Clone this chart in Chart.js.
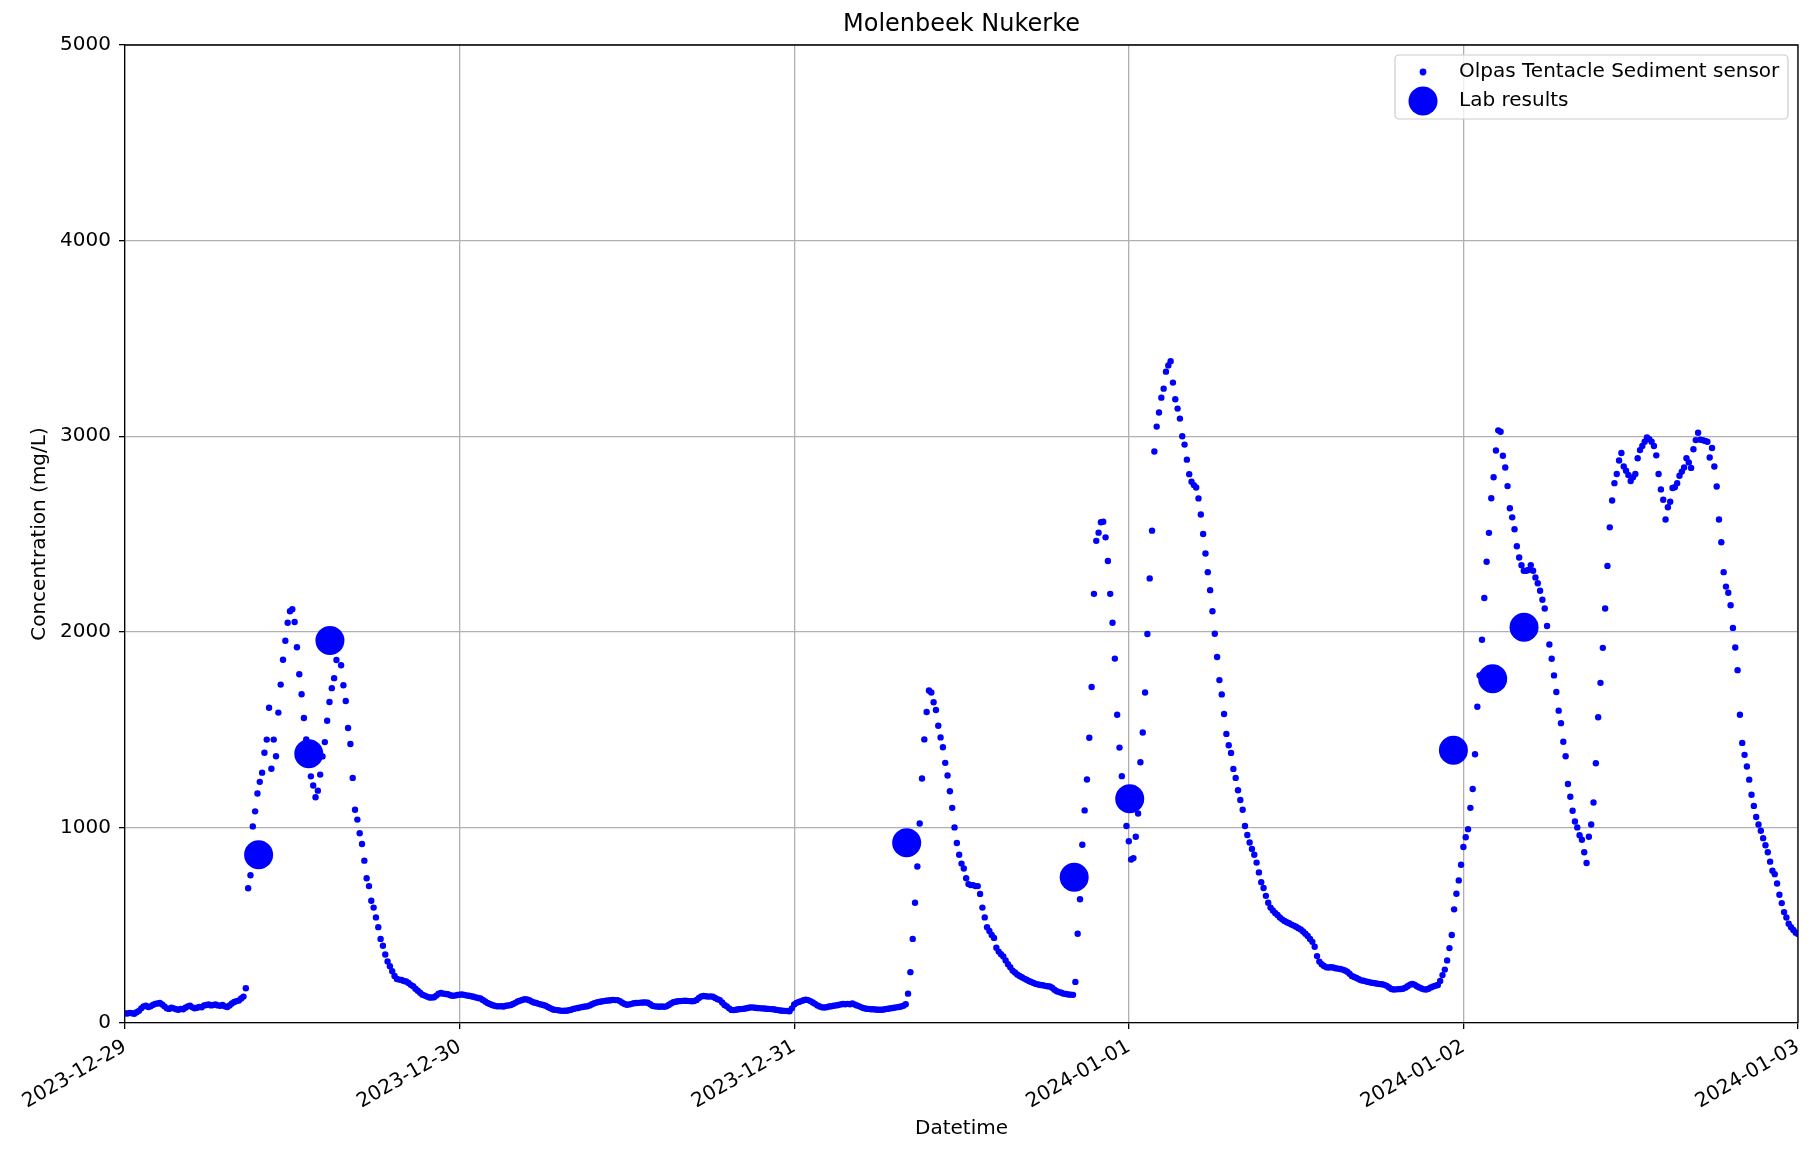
<!DOCTYPE html>
<html>
<head>
<meta charset="utf-8">
<title>Molenbeek Nukerke</title>
<script src="https://cdn.jsdelivr.net/npm/chart.js@4.4.1/dist/chart.umd.min.js"></script>
<style>
  html, body { margin: 0; padding: 0; background: #fff; }
  #wrap { width: 1813px; height: 1154px; }
</style>
</head>
<body>
<div id="wrap"><canvas id="chart" width="1813" height="1154"></canvas></div>
<script>
const chartTitle = "Molenbeek Nukerke";
const xTitle = "Datetime";
const yTitle = "Concentration (mg/L)";
const sensorLabel = "Olpas Tentacle Sediment sensor";
const labLabel = "Lab results";

const xTickLabels = ["2023-12-29", "2023-12-30", "2023-12-31", "2024-01-01", "2024-01-02", "2024-01-03"];
const yTicks = [0, 1000, 2000, 3000, 4000, 5000];

// sensor readings, one every 10 minutes from 2023-12-29 00:00
const sensorStart = "2023-12-29 00:00";
const sensorStepMinutes = 10;
const sensorValues = [
  50,48,52,50,47,55,62, 75,85,88,82,85,92,98,100,
  102,95,85,75,72,78,75,70,68,72, 70,78,85,88,80,75,78,82,80,90,
  92,95,90,92,95,90,88,92,85,82, 90,100,108,112,115,125,135,178,
  689,755,1005,1082,1173,1233,1280,1382,1449,1612, 1300,1449,1364,1587,1730,1857,1954,2046,2105,2115,
  2050,1921,1783,1681,1559,1450,1380,1261,1214,1154, 1188,1270,1363,1436,1545,1641,1712,1763,1856,1940,
  1829,1727,1646,1508,1426,1253,1090,1040,
  970,915,830,740,700,625,590,540,490,430, 395,350,315,290,265,240,225,222,220,215,
  212,205,195,188,175,165,155,145,140,135, 130,130,132,140,150,153,150,148,147,142,
  139,140,143,145,
  146,144,141,139,137,134,131,128,125,118, 110,102,97,92,88,86,85,86,84,88,
  90,92,97,103,110,114,118,122,120,116, 110,105,102,98,95,92,88,82,76,70,
  67,66,64,62,63,63,65,68,72,75, 77,80,82,84,85,90,96,101,105,108,
  110,112,114,115,116,118,117,117,112,104, 97,93,95,98,101,102,103,104,105,105,
  104,96,88,85,84,83,84,83,85,92, 100,106,109,111,112,113,114,113,112,111,
  112,118,128,136,138,137,135,136,134,128, 122,117,105,92,85,75,67,66,68,70,
  71,72,74,77,79,80,78,77,76,75, 74,73,72,71,70,68,66,64,63,62,
  61,60,75,95,
  103,108,112,116,119,117,112,105,98,90, 84,80,79,81,84,86,88,90,92,95,
  97,96,98,96,100,95,90,85,80,76, 73,72,70,70,69,68,68,68,70,72,
  74,76,78,80,82,84,88,96,
  150,260,430,615,800,1020,1250,1450,1590,1700, 1690,1640,1600,1520,1460,1410,1330,1265,1185,1100,
  1000,920,860,815,790,740,710,705,705,700, 700,660,590,540,490,470,450,435,385,365,
  352,340,320,300,285,268,258,248,240,234, 227,221,215,210,205,200,197,194,193,190,
  188,187,180,170,162,158,155,150,148,146, 145,144,
  210,456,633,911,1087,1245,1458,1718,2194,2465, 2507,2560,2563,2483,2362,2194,2046,1863,1576,1408,
  1262,1150,1007,929,836,843,952,1071,1333,1485, 1690,1989,2273,2517,2922,3049,3121,3197,3243,3330,
  3362,3383,
  3274,3189,3141,3090,3000,2957,2880,2806,2767,2750, 2738,2682,2600,2500,2400,2305,2213,2105,1990,1871,
  1753,1680,1580,1478,1420,1381,1299,1253,1190,1140, 1090,1007,961,923,890,860,820,770,720,690,
  650,615,590,575,562,552,540,530,522,515, 510,503,498,492,485,478,468,456,445,430,
  415,390,342,314,300,292,285,284,285,284, 280,278,276,273,269,262,252,240,235,230,
  224,218,216,213,210,207,205,203,201,199, 198,195,190,182,174,171,172,173,174,175,
  180,188,196,200,196,188,182,176,172,171, 175,182,187,191,194,215,245,273,320,383,
  450,581,661,729,809,900,950,991,1100,1196, 1374,1617,1777,1959,2173,2358,2506,2683,2790,2927,
  3030,3023,2900,2840,2745,2632,2585,2524,2437,2380, 2340,2312,2312,2316,2341,2312,2278,2248,2210,2164,
  2119,2030,1935,1862,1777,1692,1597,1533,1438,1364, 1222,1157,1085,1030,1000,960,937,873,818,952,
  1015,1127,1328,1563,1739,1918,2119,2337,2534,2671, 2760,2807,2876,2914,2845,2823,2802,2771,2790,2807,
  2887,2929,2950,2972,2993,2985,2972,2950,2902,2807, 2728,2675,2574,2637,2665,2735,2739,2760,2798,2819,
  2840,2887,2866,2838,2933,2980,3018,2982,2980,2976, 2972,2891,2940,2845,2743,2574,2458,2305,2231,2200,
  2136,2020,1920,1804,1576,1432,1371,1311,1244,1167, 1110,1053,1015,983,945,909,873,825,778,761,
  713,656,613,567,539,508,490,476,462,455
];

const labTimes = [
  "2023-12-29 09:35", "2023-12-29 13:11", "2023-12-29 14:42",
  "2023-12-31 08:04", "2023-12-31 20:05", "2024-01-01 00:04",
  "2024-01-01 23:17", "2024-01-02 02:06", "2024-01-02 04:21"
];
const labValues = [860, 1377, 1955, 922, 745, 1147, 1395, 1760, 2023];

const FONT = "'DejaVu Sans', 'Liberation Sans', sans-serif";
const BLUE = "#0000ff";

function hoursOf(s){
  const [d, t = "00:00"] = s.split(" ");
  const [Y, M, D] = d.split("-").map(Number);
  const [h, m] = t.split(":").map(Number);
  const start = sensorStart.split(" ")[0].split("-").map(Number);
  return (Date.UTC(Y, M - 1, D, h, m) - Date.UTC(start[0], start[1] - 1, start[2])) / 3.6e6;
}

const sensorPoints = sensorValues.map((v, i) => ({x: i * sensorStepMinutes / 60, y: v}));
const labPoints = labTimes.map((t, i) => ({x: hoursOf(t), y: labValues[i]}));
const xTickHours = xTickLabels.map(d => hoursOf(d));

const frame = {
  id: "frame",
  afterDraw(chart){
    const ctx = chart.ctx;
    const a = chart.chartArea;
    ctx.save();
    // top and right spines
    ctx.strokeStyle = "#000";
    ctx.lineWidth = 1.3;
    ctx.beginPath();
    ctx.moveTo(a.left, a.top); ctx.lineTo(a.right, a.top); ctx.lineTo(a.right, a.bottom);
    ctx.stroke();

    ctx.fillStyle = "#000";
    ctx.textBaseline = "middle";
    ctx.textAlign = "center";
    ctx.font = "24px " + FONT;
    ctx.fillText(chartTitle, (a.left + a.right) / 2, 25);

    ctx.font = "20px " + FONT;
    ctx.fillText(xTitle, (a.left + a.right) / 2, 1129);
    ctx.save();
    ctx.translate(40, (a.top + a.bottom) / 2);
    ctx.rotate(-Math.PI / 2);
    ctx.fillText(yTitle, 0, 0);
    ctx.restore();

    // legend
    const bx = 1395, by = 55, bw = 393, bh = 64, r = 4;
    ctx.beginPath();
    ctx.moveTo(bx + r, by);
    ctx.arcTo(bx + bw, by, bx + bw, by + bh, r);
    ctx.arcTo(bx + bw, by + bh, bx, by + bh, r);
    ctx.arcTo(bx, by + bh, bx, by, r);
    ctx.arcTo(bx, by, bx + bw, by, r);
    ctx.closePath();
    ctx.fillStyle = "rgba(255,255,255,0.8)";
    ctx.fill();
    ctx.strokeStyle = "#cccccc";
    ctx.lineWidth = 1.2;
    ctx.stroke();

    ctx.fillStyle = BLUE;
    ctx.beginPath(); ctx.arc(1423, 72, 3.4, 0, Math.PI * 2); ctx.fill();
    ctx.beginPath(); ctx.arc(1423, 101, 14.5, 0, Math.PI * 2); ctx.fill();

    ctx.fillStyle = "#000";
    ctx.textAlign = "left";
    ctx.fillText(sensorLabel, 1459, 72);
    ctx.fillText(labLabel, 1459, 101);
    ctx.restore();
  }
};

new Chart(document.getElementById("chart"), {
  type: "scatter",
  data: {
    datasets: [
      {label: labLabel, data: labPoints, order: 1, backgroundColor: BLUE, borderWidth: 0, pointRadius: 14.5, pointHoverRadius: 14.5, clip: 0},
      {label: sensorLabel, data: sensorPoints, order: 2, backgroundColor: BLUE, borderWidth: 0, pointRadius: 3.2, pointHoverRadius: 3.2, clip: 0}
    ]
  },
  options: {
    responsive: false,
    animation: false,
    devicePixelRatio: 1,
    layout: {padding: {top: 45, right: 15, left: 0, bottom: 0}},
    plugins: {legend: {display: false}, tooltip: {enabled: false}, title: {display: false}},
    scales: {
      x: {
        type: "linear", min: 0, max: 120,
        afterBuildTicks: axis => { axis.ticks = xTickHours.map(v => ({value: v})); },
        afterFit: s => { s.height = 131; s.paddingLeft = 0; s.paddingRight = 0; },
        ticks: {
          autoSkip: false, minRotation: 30, maxRotation: 30, padding: 6, color: "#000",
          font: {family: FONT, size: 20},
          callback: (v, i) => xTickLabels[i]
        },
        grid: {color: "#b0b0b0", lineWidth: 1.3, tickColor: "#000", tickLength: 6, tickWidth: 1.3},
        border: {color: "#000", width: 1.3}
      },
      y: {
        min: 0, max: 5000,
        afterBuildTicks: axis => { axis.ticks = yTicks.map(v => ({value: v})); },
        afterFit: s => { s.width = 125; s.paddingTop = 0; s.paddingBottom = 0; },
        ticks: {padding: 8, color: "#000", font: {family: FONT, size: 20}, callback: v => String(v)},
        grid: {color: "#b0b0b0", lineWidth: 1.3, tickColor: "#000", tickLength: 6, tickWidth: 1.3},
        border: {color: "#000", width: 1.3}
      }
    }
  },
  plugins: [frame]
});
</script>
</body>
</html>
